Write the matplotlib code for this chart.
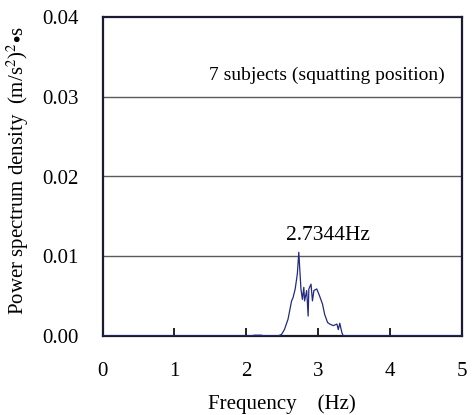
import matplotlib
matplotlib.use("Agg")
import matplotlib.pyplot as plt

freq = [0.0, 2.00, 2.08, 2.12, 2.18, 2.21, 2.25, 2.44, 2.49, 2.53, 2.58, 2.63, 2.65, 2.68, 2.71, 2.73,
        2.76, 2.78, 2.80, 2.81, 2.84, 2.86, 2.87, 2.90, 2.92, 2.94, 2.98, 3.02, 3.06,
        3.09, 3.13, 3.16, 3.21, 3.26, 3.28, 3.30, 3.33, 3.35, 5.0]
psd = [0.0, 0.0, 0.00005, 0.0001, 0.0001, 0.0001, 0.0, 0.0, 0.0002, 0.0008, 0.0021, 0.0044, 0.0048, 0.0059, 0.0078, 0.0105,
       0.0059, 0.0046, 0.0061, 0.0044, 0.0057, 0.0025, 0.0059, 0.0065, 0.0044, 0.0057, 0.0059, 0.0050, 0.0040,
       0.0027, 0.0017, 0.0015, 0.0013, 0.0015, 0.0008, 0.0016, 0.0004, 0.0, 0.0]

xticks = [0, 1, 2, 3, 4, 5]
yticks = [0.00, 0.01, 0.02, 0.03, 0.04]
peak_label = "2.7344Hz"
note = "7 subjects (squatting position)"

plt.rcParams['font.family'] = ['Liberation Serif', 'DejaVu Serif']
plt.rcParams['mathtext.fontset'] = 'stix'

fig = plt.figure(figsize=(4.72, 4.15), dpi=100)
ax = fig.add_axes([102.5 / 472, 1 - 336 / 415, 359.5 / 472, 319 / 415])

for y in yticks[1:-1]:
    ax.axhline(y, color='#5a5a5a', lw=1.0, zorder=1)

ax.plot(freq, psd, color='#232a80', lw=0.9, zorder=3)

ax.set_xlim(0, 5)
ax.set_ylim(0, 0.04)
ax.set_xticks(xticks)
ax.set_yticks(yticks)
ax.set_xticklabels([str(t) for t in xticks])
ax.set_yticklabels([f"{t:.2f}" for t in yticks])
ax.tick_params(axis='x', direction='in', length=5.8, width=1.4, color='#222222', pad=18.4, labelsize=15)
ax.tick_params(axis='y', length=0, pad=17, labelsize=15)

for s in ax.spines.values():
    s.set_color('#1a1a30')
    s.set_linewidth(1.6)

ax.set_xlabel("Frequency    (Hz)", fontsize=15)
ax.xaxis.set_label_coords(0.5, -0.182)
ax.set_ylabel(r"Power spectrum density  (m/s$^2$)$^2$$\bullet$s", fontsize=15)
ax.yaxis.set_label_coords(-0.199, 0.517)

ax.text(3.12, 0.0321, note, ha='center', va='baseline', fontsize=14)
ax.text(3.13, 0.01204, peak_label, ha='center', va='baseline', fontsize=15.5)

fig.savefig("out.png", dpi=100)
